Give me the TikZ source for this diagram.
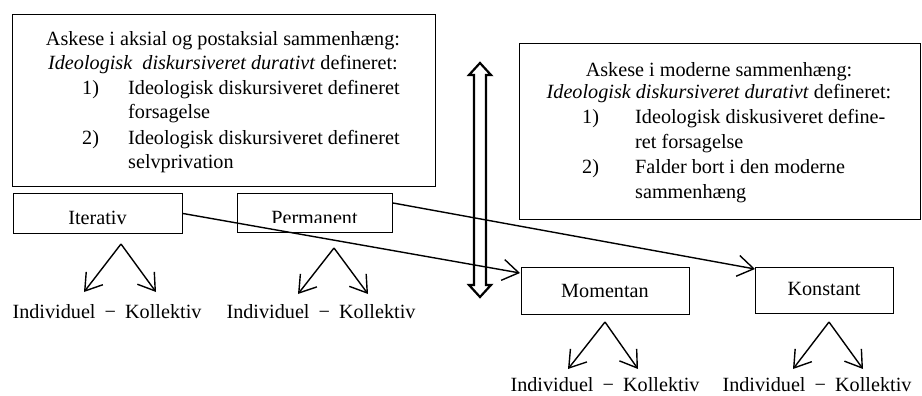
\documentclass[tikz,border=0pt]{standalone}
\usepackage{fontspec}
\setmainfont{Liberation Serif}
\usetikzlibrary{arrows.meta,calc}
\begin{document}
\begin{tikzpicture}[x=1pt,y=-1pt,
  txt/.style={font=\fontsize{20.2}{24}\selectfont, inner sep=0pt},
  box/.style={draw, line width=1pt, inner sep=0pt, anchor=north west},
  conn/.style={line width=1.4pt, -{Straight Barb[length=16pt,width=21pt,line width=1.4pt]}},
  dbl/.style={line width=2.2pt, line join=miter},
  ik/.style={txt, anchor=base}
]
\useasboundingbox (0,0) rectangle (922,396);

% big boxes
\node[box, minimum width=423pt, minimum height=172pt] (lbox) at (12,14) {};
\node[box, minimum width=401pt, minimum height=176pt] (rbox) at (519,43) {};

% left box text
\node[txt, anchor=base] (l1) at (223,46) {Askese i aksial og postaksial sammenhæng:};
\node[txt, anchor=base] (l2) at (223,70) {\textit{Ideologisk\ \ diskursiveret durativt} defineret:};
\node[txt, anchor=base west] (l3n) at (82,95) {1)};
\node[txt, anchor=base west] (l3) at (128,95) {Ideologisk diskursiveret defineret};
\node[txt, anchor=base west] (l4) at (128,119) {forsagelse};
\node[txt, anchor=base west] (l5n) at (82,144) {2)};
\node[txt, anchor=base west] (l5) at (128,144) {Ideologisk diskursiveret defineret};
\node[txt, anchor=base west] (l6) at (128,168) {selvprivation};

% right box text
\node[txt, anchor=base] (r1) at (719,77) {Askese i moderne sammenhæng:};
\node[txt, anchor=base] (r2) at (719,99) {\textit{Ideologisk diskursiveret durativt} defineret:};
\node[txt, anchor=base west] (r3n) at (582,124) {1)};
\node[txt, anchor=base west] (r3) at (635,124) {Ideologisk diskusiveret define-};
\node[txt, anchor=base west] (r4) at (635,148) {ret forsagelse};
\node[txt, anchor=base west] (r5n) at (582,173) {2)};
\node[txt, anchor=base west] (r5) at (635,173) {Falder bort i den moderne};
\node[txt, anchor=base west] (r6) at (635,198) {sammenhæng};

% small boxes
\node[box, minimum width=169pt, minimum height=40pt] (it) at (13,193) {};
\node[txt, anchor=base] (itT) at (97.5,224) {Iterativ};
\node[box, minimum width=155pt, minimum height=39pt] (per) at (237,193) {};
\begin{scope}
  \clip (237,193) rectangle (392,222.5);
  \node[txt, anchor=base] (perT) at (314.5,224.5) {Permanent};
\end{scope}
\node[box, minimum width=168pt, minimum height=47pt] (mom) at (521,267) {};
\node[txt, anchor=base] (momT) at (605,297) {Momentan};
\node[box, minimum width=138pt, minimum height=46pt] (kon) at (755,267) {};
\node[txt, anchor=base] (konT) at (824,295) {Konstant};

% double arrow
\draw[dbl] (480,63) -- (491,75) -- (486,75) -- (486,285) -- (491,285) -- (480,297)
  -- (469,285) -- (474,285) -- (474,75) -- (469,75) -- cycle;

% connectors
\draw[conn] (it.east) -- ($(mom.north west)+(-1,6)$);
\draw[conn] ($(per.north east)+(0,10)$) -- ($(kon.north west)+(0,2)$);

% forks
\coordinate (itA) at (121,244); \coordinate (itL) at (84,292); \coordinate (itR) at (156,292);
\coordinate (perA) at (334,248); \coordinate (perL) at (298,294); \coordinate (perR) at (368,294);
\coordinate (momA) at (605,322); \coordinate (momL) at (568,369); \coordinate (momR) at (638,369);
\coordinate (konA) at (829,322); \coordinate (konL) at (793,369); \coordinate (konR) at (863,369);
\foreach \f in {it,per,mom,kon}{
  \draw[conn] (\f A) -- (\f L);
  \draw[conn] (\f A) -- (\f R);
}

% labels
\node[ik] (itI) at (107,318) {Individuel\hspace{0.45em}−\hspace{0.45em}Kollektiv};
\node[ik] (perI) at (321,318) {Individuel\hspace{0.45em}−\hspace{0.45em}Kollektiv};
\node[ik] (momI) at (605,391) {Individuel\hspace{0.45em}−\hspace{0.45em}Kollektiv};
\node[ik] (konI) at (817,391) {Individuel\hspace{0.45em}−\hspace{0.45em}Kollektiv};
\end{tikzpicture}
\end{document}
